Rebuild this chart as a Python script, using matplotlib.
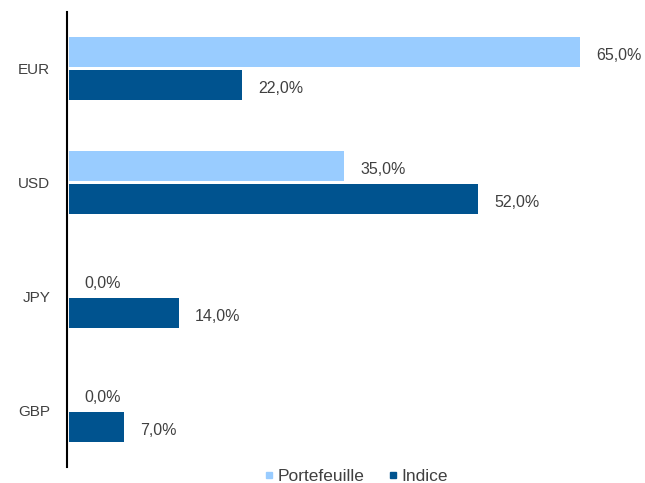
import numpy as np
import matplotlib.pyplot as plt
from matplotlib.lines import Line2D

plt.rcParams['font.family'] = ['Liberation Sans', 'DejaVu Sans']

devises = ['EUR', 'USD', 'JPY', 'GBP']
portefeuille = [65.0, 35.0, 0.0, 0.0]
indice = [22.0, 52.0, 14.0, 7.0]

c_port = '#99CCFF'
c_ind = '#00538F'
txt = '#404040'

fig = plt.figure(figsize=(6.45, 4.83), dpi=100)
ax = fig.add_axes([67 / 645, 16 / 483, 1 - 67 / 645, 455 / 483])

y = np.arange(len(devises))
h = 0.265
off = 0.145
b1 = ax.barh(y - off, portefeuille, height=h, color=c_port, left=0.2)
b2 = ax.barh(y + off, indice, height=h, color=c_ind, left=0.2)

for bars, vals in [(b1, portefeuille), (b2, indice)]:
    for rect, v in zip(bars, vals):
        ax.annotate(f'{v:.1f}'.replace('.', ',') + '%',
                    xy=(rect.get_x() + rect.get_width(), rect.get_y() + rect.get_height() / 2),
                    xytext=(11.5, -2.5), textcoords='offset points',
                    ha='left', va='center', fontsize=11.5, color=txt,
                    annotation_clip=False)

ax.set_xlim(0, 73.4)
ax.set_ylim(len(devises) - 0.5, -0.5)
ax.set_yticks(y)
ax.set_yticklabels(devises, fontsize=11, color=txt)
ax.tick_params(axis='y', length=0, pad=12)
ax.set_xticks([])
for s in ['top', 'right', 'bottom']:
    ax.spines[s].set_visible(False)
ax.spines['left'].set_linewidth(1.5)
ax.spines['left'].set_color('black')

handles = [Line2D([], [], marker='s', linestyle='none', color=c_port, markersize=5),
           Line2D([], [], marker='s', linestyle='none', color=c_ind, markersize=5)]
fig.legend(handles, ['Portefeuille', 'Indice'], loc='center', bbox_to_anchor=(355 / 645, 1 - 476 / 483),
           ncol=2, frameon=False, fontsize=12.5, labelcolor=txt, handletextpad=0.1,
           columnspacing=1.2, handlelength=0.8)

plt.savefig('out.png', dpi=100)
